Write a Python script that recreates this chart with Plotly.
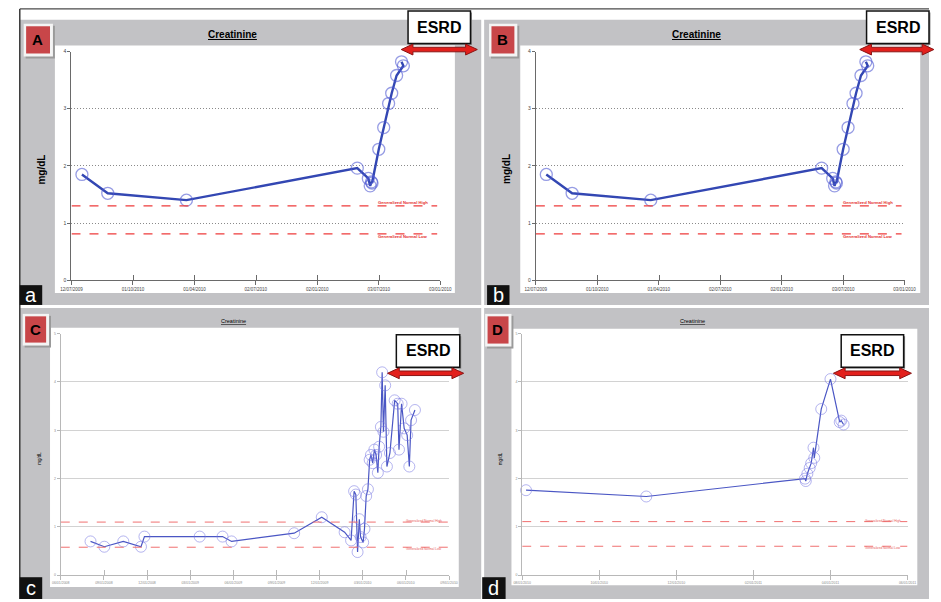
import plotly.graph_objects as go

W, H = 941, 602

# ---------------- data ----------------
# Panels A and B (same series); x in tick-interval units
AB_X = [0.17, 0.59, 1.87, 4.65, 4.83, 4.86, 4.88, 4.89, 5.00, 5.08, 5.16, 5.21, 5.29, 5.40, 5.37]
AB_Y = [1.85, 1.52, 1.40, 1.96, 1.78, 1.65, 1.72, 1.70, 2.29, 2.67, 3.09, 3.27, 3.58, 3.75, 3.82]
AB_XTICKS = ["12/07/2009", "01/10/2010", "01/04/2010", "02/07/2010", "02/01/2010", "03/07/2010", "03/01/2010"]
AB_YTICKS = ["0", "1", "2", "3", "4"]
AB_NORMAL_HIGH = 1.30
AB_NORMAL_LOW = 0.81

C_X = [0.69, 1.01, 1.45, 1.86, 1.94, 3.22, 3.75, 3.96, 5.41, 6.05, 6.58, 6.73, 6.80, 6.84,
       6.88, 6.92, 6.95, 7.01, 7.04, 7.08, 7.12, 7.16, 7.19, 7.23, 7.27, 7.31, 7.35, 7.38,
       7.42, 7.45, 7.48, 7.52, 7.56, 7.63, 7.74, 7.81, 7.84, 7.90, 7.96, 8.03, 8.08, 8.12, 8.21]
C_Y = [0.70, 0.59, 0.70, 0.59, 0.80, 0.80, 0.80, 0.70, 0.87, 1.20, 0.89, 0.72, 1.74, 1.67,
       0.48, 1.16, 0.79, 0.68, 0.96, 1.64, 1.78, 2.39, 2.49, 2.32, 2.60, 2.49, 2.12, 2.66,
       3.07, 4.20, 2.97, 3.93, 2.25, 2.53, 3.62, 3.55, 2.60, 3.55, 3.04, 2.90, 2.25, 3.21, 3.42]
C_XTICKS = ["06/01/2008", "09/01/2008", "12/01/2008", "03/01/2009", "06/01/2009",
            "09/01/2009", "12/01/2009", "03/01/2010", "06/01/2010", "09/01/2010"]
C_YTICKS = ["0", "1", "2", "3", "4", "5"]
C_NORMAL_HIGH = 1.10
C_NORMAL_LOW = 0.58

D_X = [0.05, 1.61, 3.67, 3.68, 3.70, 3.73, 3.75, 3.78, 3.79, 3.88, 4.00, 4.12, 4.14, 4.17]
D_Y = [1.76, 1.63, 2.00, 1.95, 2.10, 2.22, 2.32, 2.64, 2.43, 3.44, 4.06, 3.17, 3.20, 3.12]
D_XTICKS = ["08/01/2010", "10/01/2010", "12/01/2010", "02/01/2011", "04/01/2011", "06/01/2011"]
D_YTICKS = ["0", "1", "2", "3", "4", "5"]
D_NORMAL_HIGH = 1.11
D_NORMAL_LOW = 0.60

TITLE = "Creatinine"
UNIT = "mg/dL"
ESRD = "ESRD"
HIGH_TXT = "Generalized Normal High"
LOW_TXT = "Generalized Normal Low"


def px(x):
    return x / W


def py(y):
    return 1 - y / H


GREY = "#c2c2c5"
shapes = []
annotations = []


def rect(x0, y0, x1, y1, fill, line=None, lw=0, layer="below"):
    shapes.append(dict(type="rect", xref="paper", yref="paper",
                       x0=px(x0), x1=px(x1), y0=py(y1), y1=py(y0),
                       fillcolor=fill, line=dict(color=line or fill, width=lw),
                       layer=layer))


def pline(x0, y0, x1, y1, color, width):
    shapes.append(dict(type="line", xref="paper", yref="paper",
                       x0=px(x0), x1=px(x1), y0=py(y0), y1=py(y1),
                       line=dict(color=color, width=width), layer="above"))


def text(x, y, s, size, color="black", angle=0, family="Arial"):
    annotations.append(dict(xref="paper", yref="paper", x=px(x), y=py(y), text=s,
                            showarrow=False, textangle=angle, xanchor="center", yanchor="middle",
                            font=dict(size=size, color=color, family=family)))


def arrow(x0, x1, yc, sh=2.3, hh=5.5, hl=12):
    pts = [(x0, yc), (x0 + hl, yc - hh), (x0 + hl, yc - sh), (x1 - hl, yc - sh), (x1 - hl, yc - hh),
           (x1, yc), (x1 - hl, yc + hh), (x1 - hl, yc + sh), (x0 + hl, yc + sh), (x0 + hl, yc + hh)]
    path = "M " + " L ".join(f"{px(a):.5f},{py(b):.5f}" for a, b in pts) + " Z"
    shapes.append(dict(type="path", xref="paper", yref="paper", path=path,
                       fillcolor="#e3201c", line=dict(color="#8a1414", width=1), layer="above"))


# ---------------- backgrounds ----------------
rect(9, 17, 482, 305, GREY)
rect(485, 17, 941, 305, GREY)
rect(9, 308, 482, 602, GREY)
rect(485, 308, 941, 602, GREY)
# white chart areas
rect(45, 43, 455, 293, "#ffffff")
rect(522, 43, 932, 293, "#ffffff")
rect(40, 328, 459, 590, "#ffffff")
rect(513, 329, 929, 588, "#ffffff")
# outer frame: top and left edges
pline(9, 6, 941, 6, "#4a4a4a", 1.2)
pline(9, 6, 9, 602, "#3a3a3a", 1.5)

fig = go.Figure()

panels = [
    dict(key="", xd=(62, 440), yd=(49, 280), x=AB_X, y=AB_Y, xt=AB_XTICKS, yt=AB_YTICKS,
         hi=AB_NORMAL_HIGH, lo=AB_NORMAL_LOW, style="ab"),
    dict(key="2", xd=(538, 916), yd=(49, 280), x=AB_X, y=AB_Y, xt=AB_XTICKS, yt=AB_YTICKS,
         hi=AB_NORMAL_HIGH, lo=AB_NORMAL_LOW, style="ab"),
    dict(key="3", xd=(51, 449), yd=(334, 578), x=C_X, y=C_Y, xt=C_XTICKS, yt=C_YTICKS,
         hi=C_NORMAL_HIGH, lo=C_NORMAL_LOW, style="cd"),
    dict(key="4", xd=(524, 919), yd=(334, 578), x=D_X, y=D_Y, xt=D_XTICKS, yt=D_YTICKS,
         hi=D_NORMAL_HIGH, lo=D_NORMAL_LOW, style="cd"),
]

layout_axes = {}
for p in panels:
    k = p["key"]
    xa, ya = "x" + k, "y" + k
    ab = p["style"] == "ab"
    nx = len(p["xt"]) - 1
    ny = len(p["yt"]) - 1
    xv = list(range(nx + 1))
    yv = list(range(ny + 1))
    axcol = "#6a6a6a" if ab else "#b8b8b8"
    tkcol = "#444" if ab else "#8a8a8a"
    layout_axes["xaxis" + k] = dict(
        domain=[px(p["xd"][0]), px(p["xd"][1])], range=[0, nx], anchor=ya,
        showline=True, linecolor=axcol, linewidth=1.3 if ab else 1,
        tickmode="array", tickvals=xv, ticktext=p["xt"], ticks="outside", ticklen=4,
        tickcolor=axcol, tickwidth=1.2, tickangle=0,
        minor=dict(tickmode="array", tickvals=[v + 0.004 for v in xv[1:]], ticks="inside",
                   ticklen=5, tickcolor=axcol, tickwidth=1.2),
        tickfont=dict(size=4.5 if ab else 3.5, color=tkcol, family="Arial"),
        showgrid=False, zeroline=False, fixedrange=True)
    layout_axes["yaxis" + k] = dict(
        domain=[py(p["yd"][1]), py(p["yd"][0])], range=[0, ny], anchor=xa,
        showline=True, linecolor=axcol, linewidth=1.3 if ab else 1,
        tickmode="array", tickvals=yv, ticktext=p["yt"], ticks="outside", ticklen=3,
        tickcolor=axcol, tickfont=dict(size=5 if ab else 3.5, color=tkcol, family="Arial"),
        showgrid=True, gridcolor="#8a8a8a" if ab else "#d2d2d2", gridwidth=1,
        griddash="1px,2px" if ab else "solid", zeroline=False, fixedrange=True)
    # normal range lines
    for val in (p["hi"], p["lo"]):
        shapes.append(dict(type="line", xref=xa, yref=ya, x0=0, x1=nx - (0.05 if ab else 0.0),
                           y0=val, y1=val,
                           line=dict(color="#ee3b3b" if ab else "#f07070", width=1.3 if ab else 1,
                                     dash="dash"),
                           layer="above"))
    # line + circles
    fig.add_trace(go.Scatter(x=p["x"], y=p["y"], xaxis=xa, yaxis=ya, mode="lines",
                             line=dict(color="#3347b3" if ab else "#4a56c4", width=2.4 if ab else 1.2),
                             showlegend=False, hoverinfo="skip"))
    fig.add_trace(go.Scatter(x=p["x"], y=p["y"], xaxis=xa, yaxis=ya, mode="markers",
                             marker=dict(symbol="circle-open", size=12 if ab else 11,
                                         color="rgba(80,90,210,0.6)" if ab else "rgba(120,120,225,0.55)",
                                         line=dict(width=1.3 if ab else 1)),
                             cliponaxis=False, showlegend=False, hoverinfo="skip"))

# normal range captions
text(402, 202, "<b>" + HIGH_TXT + "</b>", 4.2, color="#e53030")
text(402, 236, "<b>" + LOW_TXT + "</b>", 4.2, color="#e53030")
text(878, 202, "<b>" + HIGH_TXT + "</b>", 4.2, color="#e53030")
text(878, 236, "<b>" + LOW_TXT + "</b>", 4.2, color="#e53030")
text(423, 523, HIGH_TXT, 3.2, color="#e86060")
text(423, 551, LOW_TXT, 3.2, color="#e86060")
text(894, 523, HIGH_TXT, 3.2, color="#e86060")
text(894, 550, LOW_TXT, 3.2, color="#e86060")

# titles and unit labels
text(227, 32, "<b><u>" + TITLE + "</u></b>", 10)
text(703, 32, "<b><u>" + TITLE + "</u></b>", 10)
text(228, 321, "<u>" + TITLE + "</u>", 5.5)
text(699, 321, "<u>" + TITLE + "</u>", 5.5)
text(31, 168, "<b>" + UNIT + "</b>", 10, angle=-90)
text(508, 168, "<b>" + UNIT + "</b>", 10, angle=-90)
text(29, 460, UNIT, 4.5, angle=-90)
text(502, 460, UNIT, 4.5, angle=-90)

# red capital badges
for (x0, y0, x1, y1, letter) in [(13, 21, 43, 54, "A"), (490, 21, 519, 54, "B"),
                                 (12, 314, 39, 346, "C"), (486, 314, 513, 347, "D")]:
    rect(x0 + 2, y0 + 2, x1 + 2, y1 + 2, "#9a9a9a", layer="above")
    rect(x0, y0, x1, y1, "#f4f4f4", layer="above")
    rect(x0 + 2.5, y0 + 2.5, x1 - 3, y1 - 3, "#c84649", layer="above")
    text((x0 + x1) / 2 - 0.5, (y0 + y1) / 2 - 0.5, "<b>" + letter + "</b>", 15,
         family="Liberation Sans, Arial")

# black lowercase boxes
for (x0, y0, x1, y1, letter) in [(9, 285, 32, 305, "a"), (488, 285, 511, 305, "b"),
                                 (9, 580, 32, 602, "c"), (483, 580, 507, 602, "d")]:
    rect(x0, y0, x1, y1, "#111111", layer="above")
    text((x0 + x1) / 2, (y0 + y1) / 2 - 0.5, letter, 20, color="white",
         family="Liberation Sans, Arial")

# ESRD boxes with arrows
for (x0, y0, x1, y1, ax0, ax1, ay) in [(407, 8, 471, 41, 400, 478, 47),
                                       (877, 8, 941, 41, 870, 946, 47),
                                       (395, 335, 460, 368, 386, 464, 374),
                                       (851, 335, 915, 368, 843, 923, 374)]:
    rect(x0 + 1.5, y0 + 1.5, x1 + 1.5, y1 + 1.5, "#8a8a8a", layer="above")
    rect(x0, y0, x1, y1, "#ffffff", line="#111111", lw=1.5, layer="above")
    text((x0 + x1) / 2, (y0 + y1) / 2, "<b>" + ESRD + "</b>", 16, family="Liberation Sans, Arial")
    arrow(ax0, ax1, ay)

fig.update_layout(width=W, height=H, margin=dict(l=0, r=0, t=0, b=0),
                  paper_bgcolor="#ffffff", plot_bgcolor="rgba(0,0,0,0)",
                  shapes=shapes, annotations=annotations, showlegend=False,
                  font=dict(family="Arial"), **layout_axes)

fig.write_html("out.html", config={"displayModeBar": False})

# remove default page margins so the 941x602 figure fills the window exactly
with open("out.html", encoding="utf-8") as f:
    html = f.read()
html = html.replace("<head>", "<head><style>html,body{margin:0;padding:0;overflow:hidden;}</style>", 1)
with open("out.html", "w", encoding="utf-8") as f:
    f.write(html)
